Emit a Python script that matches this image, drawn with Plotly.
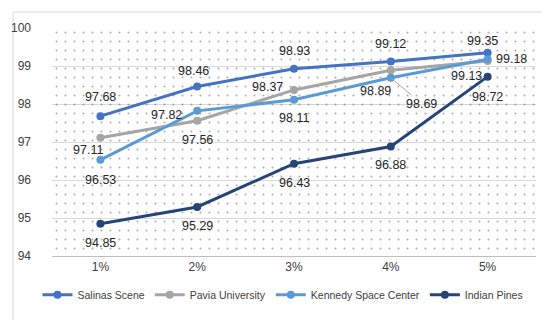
import plotly.graph_objects as go

categories = ["1%", "2%", "3%", "4%", "5%"]
salinas = [97.68, 98.46, 98.93, 99.12, 99.35]
pavia = [97.11, 97.56, 98.37, 98.89, 99.13]
kennedy = [96.53, 97.82, 98.11, 98.69, 99.18]
indian = [94.85, 95.29, 96.43, 96.88, 98.72]
series_names = ["Salinas Scene", "Pavia University", "Kennedy Space Center", "Indian Pines"]
y_min, y_max = 94, 100

colors = ["#4472C4", "#A5A5A5", "#5B9BD5", "#264478"]
# label pixel offsets (style only)
offsets = [
    [(0, -19), (-4, -16), (0, -18), (0, -17), (-5, -12)],
    [(-12, 12), (0, 19), (-27, -3), (-15, 21), (-21, 15)],
    [(0, 20), (-31, 4), (0, 18), (31, 26), (24, 0)],
    [(0, 19), (0, 19), (0, 19), (0, 18), (0, 20)],
]

fig = go.Figure()

# dotted plot-area background
fig.add_trace(go.Bar(
    x=categories, y=[y_max - y_min] * len(categories), base=y_min, width=1,
    marker=dict(color="rgba(0,0,0,0)", line=dict(width=0),
                pattern=dict(shape=".", fgcolor="#5a5a5a", bgcolor="rgba(0,0,0,0)",
                             size=9, solidity=0.04)),
    hoverinfo="skip", showlegend=False))

all_series = [salinas, pavia, kennedy, indian]
for name, vals, col in zip(series_names, all_series, colors):
    fig.add_trace(go.Scatter(
        x=categories, y=vals, name=name, mode="lines+markers",
        line=dict(color=col, width=3), marker=dict(color=col, size=8)))

annotations = []
for si, vals in enumerate(all_series):
    for i, v in enumerate(vals):
        dx, dy = offsets[si][i]
        leader = (si == 2 and i == 3)
        ann = dict(x=categories[i], y=v, text=f"{v:.2f}",
                   font=dict(family="Liberation Sans", size=12.5, color="#262626"),
                   bgcolor="rgba(0,0,0,0)")
        if leader:
            ann.update(showarrow=True, arrowhead=0, arrowwidth=1, arrowcolor="#A6A6A6",
                       ax=dx, ay=dy, axref="pixel", ayref="pixel")
        else:
            ann.update(showarrow=False, xshift=dx, yshift=-dy)
        annotations.append(ann)

fig.update_layout(
    width=550, height=320,
    margin=dict(l=44, r=22, t=20, b=72, autoexpand=False),
    paper_bgcolor="white", plot_bgcolor="white",
    font=dict(family="Liberation Sans", size=12, color="#404040"),
    barmode="overlay",
    showlegend=True,
    legend=dict(orientation="h", x=-0.03, xanchor="left",
                y=-0.17, yanchor="middle", font=dict(size=10.5, color="#404040"),
                itemwidth=30, tracegroupgap=0, bgcolor="rgba(0,0,0,0)"),
    annotations=annotations,
    shapes=[dict(type="rect", xref="paper", yref="paper",
                 x0=-0.0806, x1=1.031, y0=-0.285, y1=1.070,
                 line=dict(color="#D9D9D9", width=1), layer="below")],
)
fig.update_xaxes(type="category", range=[-0.5, 4.5], showgrid=False,
                 showline=True, linecolor="#BFBFBF", linewidth=1,
                 ticks="", ticklabelstandoff=0, tickfont=dict(size=12))
fig.update_yaxes(range=[y_min, y_max], dtick=1, showgrid=True, gridcolor="#D9D9D9",
                 gridwidth=1, zeroline=False, showline=False, ticks="",
                 ticklabelstandoff=20, tickfont=dict(size=12))

fig.write_html("out.html")
